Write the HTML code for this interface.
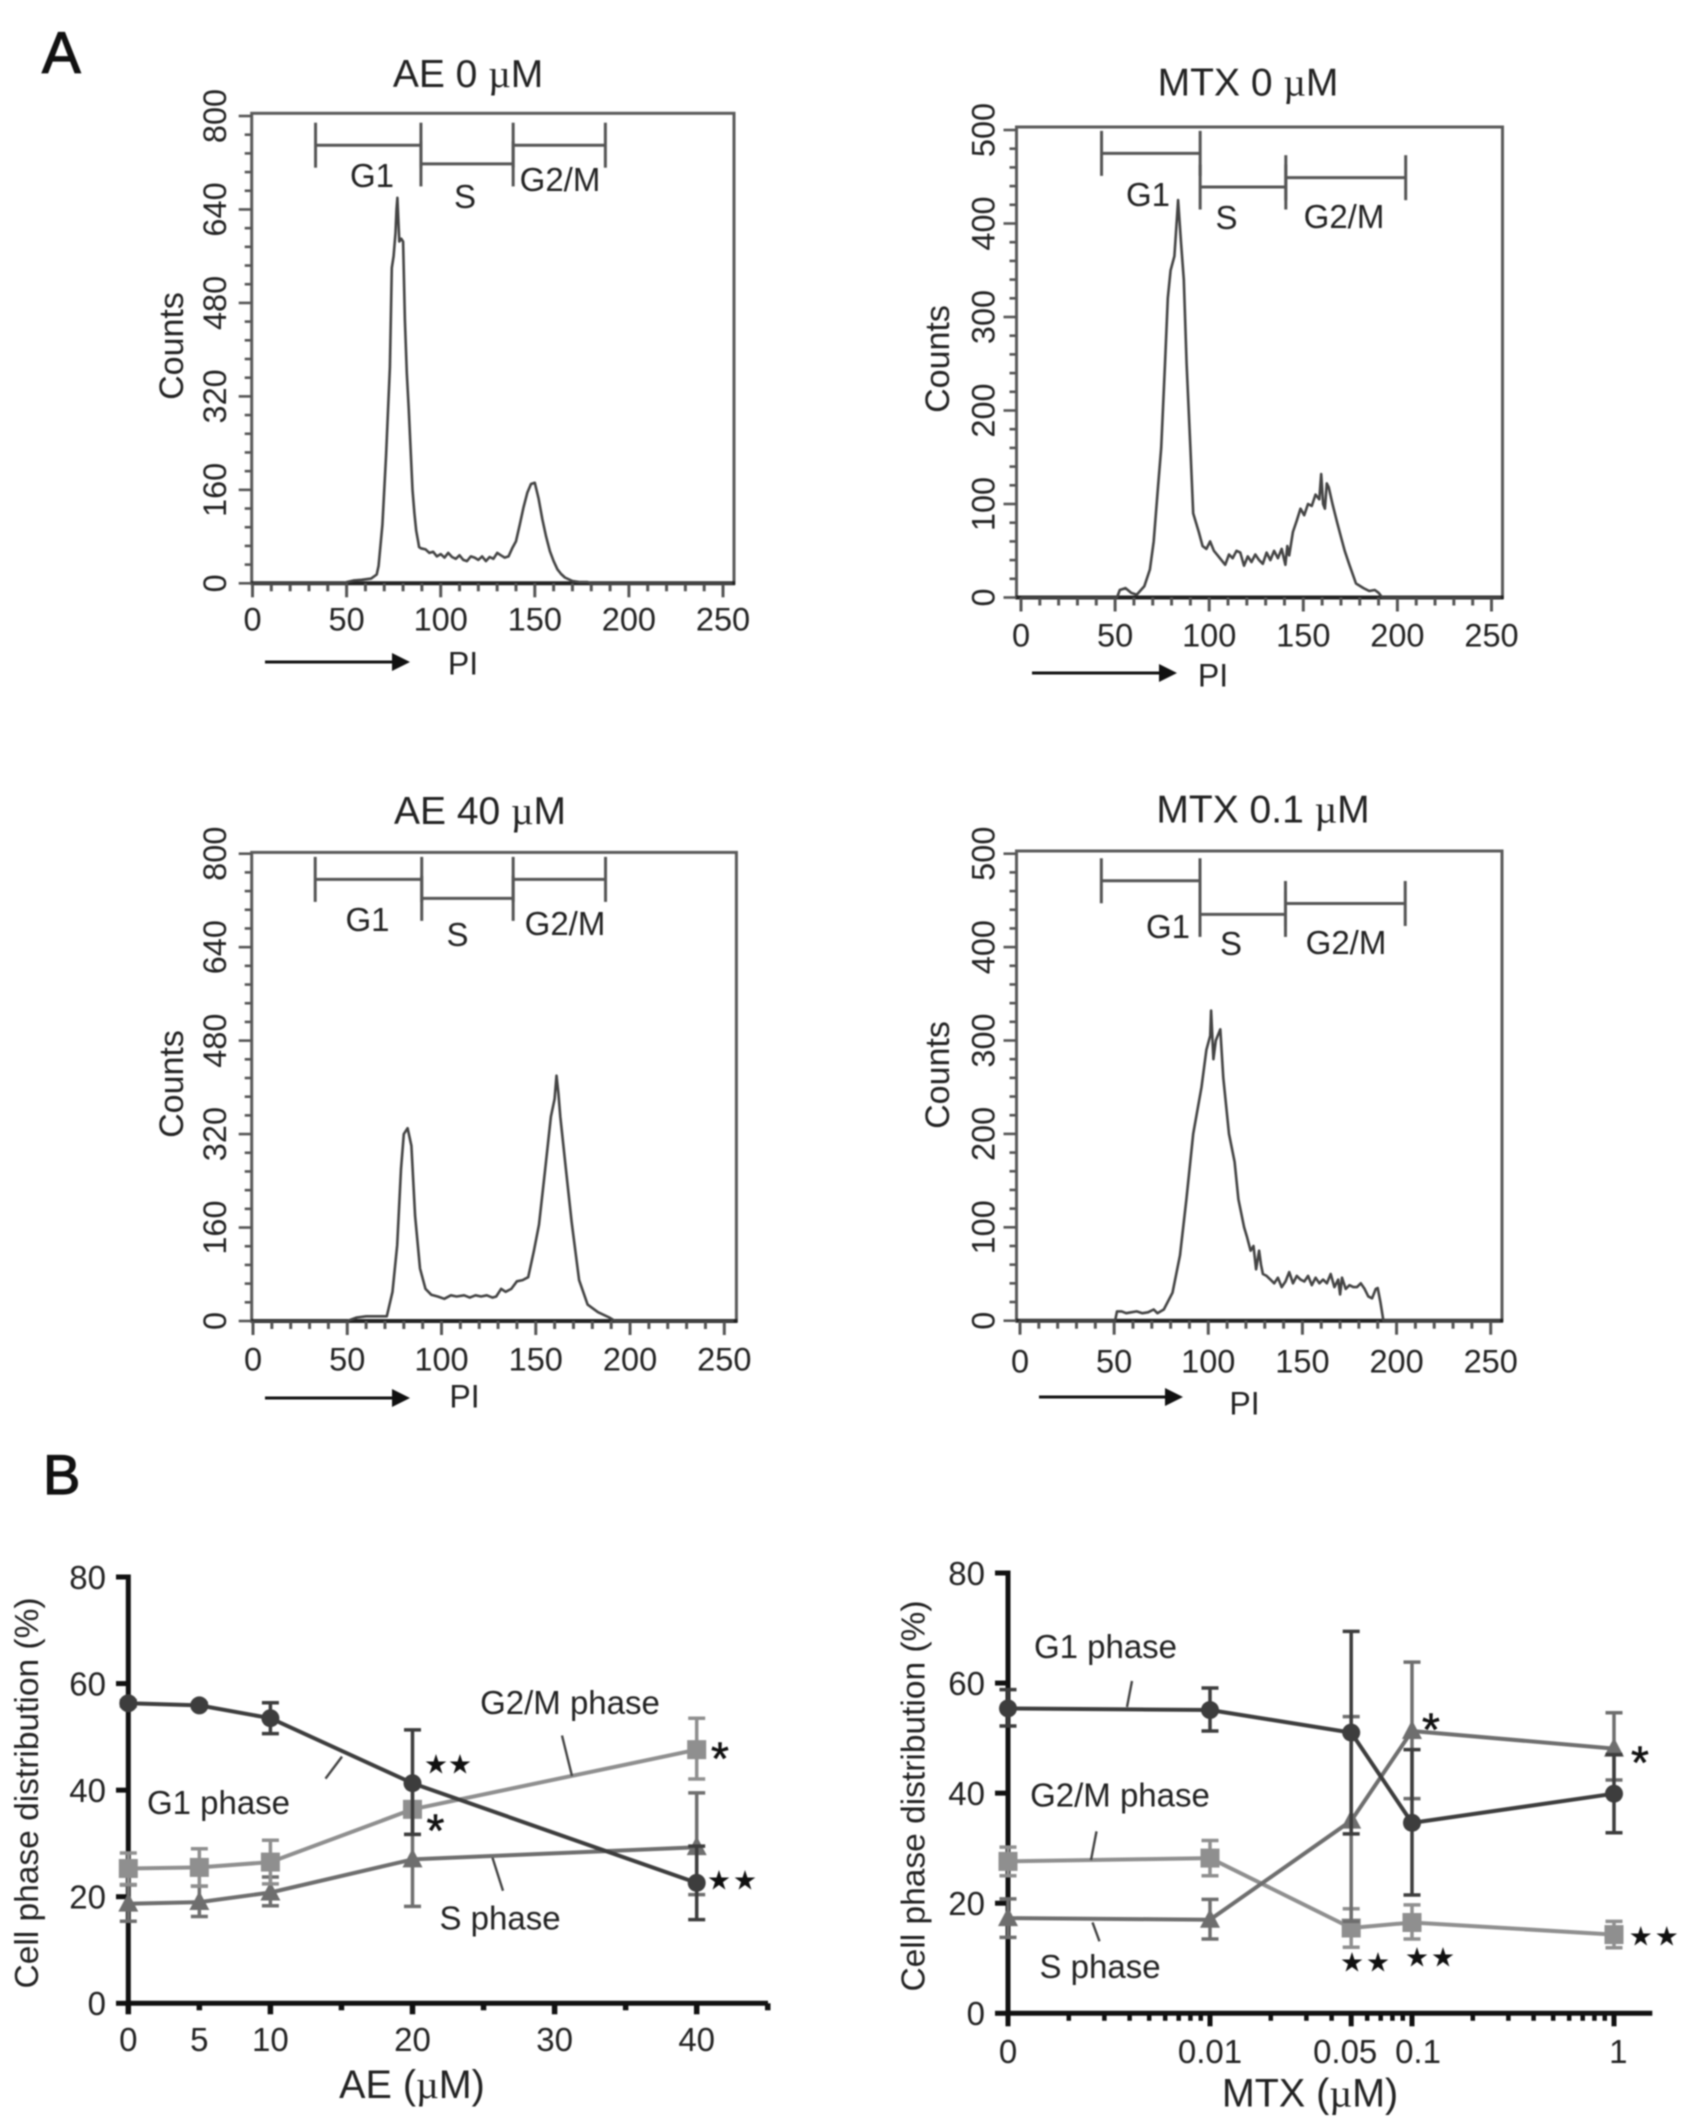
<!DOCTYPE html>
<html lang="en">
<head>
<meta charset="utf-8">
<title>Cell cycle histograms and phase distribution</title>
<style>
html,body{margin:0;padding:0;background:#fff;width:1689px;height:2126px;overflow:hidden}
svg{display:block;filter:blur(0.8px)}
text{font-family:"Liberation Sans",Arial,sans-serif;fill:#222}
</style>
</head>
<body>
<svg id="figure" xmlns="http://www.w3.org/2000/svg" width="1689" height="2126" viewBox="0 0 1689 2126"></svg>
<script>
// ---------- Histogram data (PI channel, counts) ----------
const ae0Channels=[0,49,50,54,58,63,66,67,69,71,
73,74,75,76,76.5,77,77.5,78,79,80,
81,82,83,84,85,86,87,88,88.5,89.5,
92,94,96,98,100,102,104,106,108,110,
112,114,116,118,120,122,124,126,128,130,
132,134,136,138,140,142,144,146,148,150,
152,154,156,158,160,162,164,166,170,174,
178,180,255];
const ae0Counts=[0,0,2,5,6,8,15,30,100,220,
370,540,560,600,640,660,620,585,590,585,
450,360,300,230,160,120,90,72,62,60,
58,52,54,46,50,44,52,45,42,48,
40,38,46,44,40,46,38,45,42,52,
48,44,46,60,72,100,130,155,170,172,
145,110,80,55,38,24,16,10,4,2,
2,0,0];
const mtx0Channels=[0,51,52.5,55.5,58.5,61.5,65.5,68.5,70.5,72.5,
74.5,76.5,78,79.5,81.5,83,83.5,85,86.5,88,
90,91.5,94.5,96.5,98.5,100.5,102.5,104.5,106.5,108.5,
110.5,112.5,114.5,116.5,118.5,120.5,122.5,124.5,126.5,128.5,
130.5,132.5,134.5,136.5,138.5,140.5,141.5,142.5,144.5,146.5,
148.5,150.5,152.5,154.5,156.5,158.5,159.5,160.5,161.5,162.5,
163.5,165.5,168,170,172,174.5,178,182,185,188,
190,192,255];
const mtx0Counts=[0,0,8,10,5,3,12,30,60,110,
160,250,320,350,365,410,425,380,340,250,
160,90,70,55,52,60,50,45,40,35,
46,42,50,48,34,44,38,46,40,36,
48,40,50,42,52,35,55,45,70,82,
95,88,100,98,110,105,132,100,95,122,
118,100,80,65,50,35,15,10,7,8,
5,0,0];
const ae40Channels=[0,50,55,60,65,71,74,76.5,78.5,80,
82,84,86,88.6,91.5,94.5,98,101.5,105,108,
112,115,118,121,124,127,129,131.6,134,137,
140,143,146,149,151.7,155,158,160,161,162,
163,166,169,173,177.5,183,189,192,255];
const ae40Counts=[0,0,6,8,8,8,50,130,260,320,
330,300,180,90,55,45,42,38,44,42,
44,40,44,42,44,40,42,55,50,55,
68,70,75,120,165,260,350,380,420,390,
350,260,170,70,28,15,6,0,0];
const mtx01Channels=[0,50.5,51.5,54,56.4,59,62,65,68,71,
73,76.4,81,85,88.4,92,96.4,99,101,101.5,
102.7,104,106.4,108,111,114,116,119,120.5,122.5,
124,125.4,127,128,129,131,133,135,137,139,
141,143,145,147,149,151,153,155,157,159,
161,163,165,167,169,170,171,173,175,177,
179,181,183,185,187,189,190,191.4,193,255];
const mtx01Counts=[0,0,10,10,8,9,10,8,9,12,
8,12,30,70,130,200,250,290,305,332,
280,300,312,260,200,170,130,100,90,75,
80,55,75,60,50,48,44,40,46,36,
42,52,40,48,44,42,48,38,46,40,
44,40,50,36,44,28,46,34,38,36,
36,40,34,26,24,34,35,20,0,0];
const histXTicks=[0,50,100,150,200,250];
const histYTicksAE=[0,160,320,480,640,800];
const histYTicksMTX=[0,100,200,300,400,500];

// ---------- Phase distribution data (AE) ----------
const aeDoses=[0,5,10,20,40];
const aeG1=[56.3,55.9,53.5,41.3,22.6];
const aeG1Hi=[56.8,56.3,56.4,51.3,29.5];
const aeG1Lo=[55.8,55.5,50.6,31.7,15.7];
const aeG2M=[25.3,25.5,26.5,36.4,47.6];
const aeG2MHi=[28.2,29,30.6,41,53.5];
const aeG2MLo=[22.3,22,22.4,31.7,42.1];
const aeS=[18.7,19,20.8,27,29.3];
const aeSHi=[22.2,22,23.7,35.8,39.5];
const aeSLo=[15.4,16.3,18.3,18.2,20.4];
const aeXTicks=[0,5,10,15,20,25,30,35,40,45];
const aeXLabels=[0,5,10,20,30,40];
const phaseYTicks=[0,20,40,60,80];

// ---------- Phase distribution data (MTX) ----------
const mtxDoses=[0,0.01,0.05,0.1,1];
const mtxG1=[55.4,55.1,51,34.6,39.9];
const mtxG1Hi=[58.8,59.1,69.4,47.9,47];
const mtxG1Lo=[52.2,51.3,32.6,21.5,32.8];
const mtxG2M=[27.6,28.2,15.5,16.5,14.3];
const mtxG2MHi=[30.2,31.4,19,19.7,16.7];
const mtxG2MLo=[25,25,12,13.5,11.9];
const mtxS=[17.3,17,35,51.3,48.1];
const mtxSHi=[20.8,20.7,53.9,63.8,54.6];
const mtxSLo=[13.8,13.5,16.7,39,42.4];
const mtxXLabels=["0","0.01","0.05","0.1","1"];
const mtxMinorDecades=[0.001,0.01,0.1];
const mtxMinorMultiples=[2,3,4,5,6,7,8,9];

// ---------- Helpers ----------
const NS='http://www.w3.org/2000/svg';
const root=document.getElementById('figure');
function mk(parent,tag,attrs,name,interactive){
  const el=document.createElementNS(NS,tag);
  for(const k in attrs){el.setAttribute(k,attrs[k]);}
  
  
  parent.appendChild(el);
  return el;
}
function seg(p,x1,y1,x2,y2,color,w,name){
  return mk(p,'line',{x1:x1,y1:y1,x2:x2,y2:y2,stroke:color,'stroke-width':w},name);
}
function label(p,x,cy,str,size,name,opts){
  opts=opts||{};
  const a={x:x,y:cy+size*0.36,'font-size':size,'text-anchor':opts.anchor||'middle'};
  if(opts.rot){a.transform='rotate(-90 '+x+' '+cy+')';}
  const t=mk(p,'text',a,name);
  t.innerHTML=str.replace('µ','<tspan style="font-family:\'Liberation Serif\',serif">µ</tspan>');
  return t;
}

// ---------- Histogram panels ----------
function histogram(cfg){
  const g=mk(root,'g',{},cfg.name);
  const X=ch=>cfg.x0+(cfg.x250-cfg.x0)*ch/250;
  const Y=c=>cfg.y0-(cfg.y0-cfg.yMax)*c/cfg.max;
  mk(g,'rect',{x:cfg.L,y:cfg.T,width:cfg.R-cfg.L,height:cfg.B-cfg.T,fill:'none',stroke:'#5a5a5a','stroke-width':3},cfg.name+'-frame');
  seg(g,cfg.L-1,cfg.y0,cfg.R+1,cfg.y0,'#222',4,cfg.name+'-x-axis');
  // x ticks
  for(let v=0;v<=250;v+=10){
    const maj=v%50===0;
    seg(g,X(v),cfg.y0,X(v),cfg.y0+(maj?14:8),'#555',3,cfg.name+'-x-tick');
  }
  histXTicks.forEach(v=>{
    label(g,X(v),cfg.xLabelY,String(v),32.5,cfg.name+'-x-tick-label');
  });
  // y ticks
  const step=cfg.max/25;
  for(let i=0;i<=25;i++){
    const maj=i%5===0;
    seg(g,cfg.L,Y(i*step),cfg.L-(maj?13:7),Y(i*step),'#555',2.6,cfg.name+'-y-tick');
  }
  cfg.yTicks.forEach(v=>{
    label(g,cfg.yLabelX,Y(v),String(v),32.5,cfg.name+'-y-tick-label',{rot:true});
  });
  // histogram trace
  const pts=cfg.channels.map((ch,i)=>X(ch).toFixed(1)+','+Y(cfg.counts[i]).toFixed(1)).join(' ');
  mk(g,'polyline',{points:pts,fill:'none',stroke:'#444','stroke-width':2.6,'stroke-linejoin':'round'},cfg.name+'-trace');
  // gates
  cfg.gates.forEach(gt=>{
    const c=gt.level;
    seg(g,X(gt.from),Y(c),X(gt.to),Y(c),'#555',3,cfg.name+'-gate-'+gt.id);
    seg(g,X(gt.from),Y(c)-22.5,X(gt.from),Y(c)+22.5,'#555',3,cfg.name+'-gate-'+gt.id+'-start');
    seg(g,X(gt.to),Y(c)-22.5,X(gt.to),Y(c)+22.5,'#555',3,cfg.name+'-gate-'+gt.id+'-end');
    label(g,gt.lx,gt.ly,gt.text,33,cfg.name+'-gate-label-'+gt.id);
  });
  label(g,cfg.titleX,cfg.titleY,cfg.title,39,cfg.name+'-title');
  label(g,cfg.countsX,cfg.countsY,'Counts',34,cfg.name+'-y-axis-title',{rot:true});
  label(g,cfg.piX,cfg.piY,'PI',32,cfg.name+'-x-axis-title');
  seg(g,cfg.arrowA,cfg.arrowY,cfg.arrowB-14,cfg.arrowY,'#111',3,cfg.name+'-arrow-shaft');
  mk(g,'polygon',{points:(cfg.arrowB-18)+','+(cfg.arrowY-9)+' '+cfg.arrowB+','+cfg.arrowY+' '+(cfg.arrowB-18)+','+(cfg.arrowY+9),fill:'#111'},cfg.name+'-arrow-head');
}

histogram({name:'histogram-ae-0',title:'AE 0 µM',titleX:468,titleY:73,channels:ae0Channels,counts:ae0Counts,max:800,yTicks:histYTicksAE,
  L:251.7,R:734,T:113.3,B:583.3,x0:252.5,x250:723,yMax:116,y0:583.3,xLabelY:619,yLabelX:214.5,countsX:170.6,countsY:346,piX:463,piY:663,arrowA:265,arrowB:410,arrowY:662,
  gates:[{id:'g1',text:'G1',from:33.5,to:89.5,level:750,lx:372,ly:175},{id:'s',text:'S',from:89.5,to:138.5,level:718,lx:465,ly:196},{id:'g2m',text:'G2/M',from:138.5,to:187.5,level:750,lx:560,ly:179}]});
histogram({name:'histogram-mtx-0',title:'MTX 0 µM',titleX:1248,titleY:81.5,channels:mtx0Channels,counts:mtx0Counts,max:500,yTicks:histYTicksMTX,
  L:1016.5,R:1502.5,T:127,B:597.5,x0:1021,x250:1491.5,yMax:130,y0:597.5,xLabelY:635,yLabelX:983,countsX:937,countsY:359,piX:1213,piY:675,arrowA:1032,arrowB:1177,arrowY:673,
  gates:[{id:'g1',text:'G1',from:42.8,to:95.2,level:475,lx:1148,ly:194},{id:'s',text:'S',from:95.2,to:140.7,level:439,lx:1226.5,ly:217},{id:'g2m',text:'G2/M',from:140.7,to:204.4,level:449,lx:1344,ly:216}]});
histogram({name:'histogram-ae-40',title:'AE 40 µM',titleX:480,titleY:810,channels:ae40Channels,counts:ae40Counts,max:800,yTicks:histYTicksAE,
  L:251.7,R:736.4,T:852.4,B:1321,x0:253,x250:724.3,yMax:853.7,y0:1321,xLabelY:1359,yLabelX:214.5,countsX:170.6,countsY:1084,piX:464.5,piY:1396,arrowA:265,arrowB:410,arrowY:1398,
  gates:[{id:'g1',text:'G1',from:33,to:89.5,level:756,lx:367.5,ly:919},{id:'s',text:'S',from:89.5,to:138,level:723.5,lx:457.5,ly:934},{id:'g2m',text:'G2/M',from:138,to:187,level:756,lx:565,ly:923}]});
histogram({name:'histogram-mtx-0-1',title:'MTX 0.1 µM',titleX:1263,titleY:808.5,channels:mtx01Channels,counts:mtx01Counts,max:500,yTicks:histYTicksMTX,
  L:1016.5,R:1502,T:851,B:1320.7,x0:1020,x250:1490.7,yMax:853.7,y0:1320.7,xLabelY:1360.8,yLabelX:983,countsX:937,countsY:1075,piX:1244.5,piY:1403,arrowA:1039,arrowB:1183,arrowY:1397,
  gates:[{id:'g1',text:'G1',from:43.2,to:95.6,level:471,lx:1168,ly:926},{id:'s',text:'S',from:95.6,to:141,level:435,lx:1231,ly:943},{id:'g2m',text:'G2/M',from:141,to:204.6,level:446.7,lx:1346,ly:942}]});

// ---------- Line chart helpers ----------
const G1_COLOR='#3d3d3d',G2M_COLOR='#8f8f8f',S_COLOR='#6e6e6e';
function series(p,X,Y,xs,vals,hi,lo,color,shape,name){
  const g=mk(p,'g',{},name);
  xs.forEach((x,i)=>{
    seg(g,X(x),Y(hi[i]),X(x),Y(lo[i]),color,3.5,name+'-error-bar');
    seg(g,X(x)-8.5,Y(hi[i]),X(x)+8.5,Y(hi[i]),color,3.5,name+'-error-cap-high');
    seg(g,X(x)-8.5,Y(lo[i]),X(x)+8.5,Y(lo[i]),color,3.5,name+'-error-cap-low');
  });
  const pts=xs.map((x,i)=>X(x).toFixed(1)+','+Y(vals[i]).toFixed(1)).join(' ');
  mk(g,'polyline',{points:pts,fill:'none',stroke:color,'stroke-width':4,'stroke-linejoin':'round'},name+'-line');
  xs.forEach((x,i)=>{
    const cx=X(x),cy=Y(vals[i]);
    if(shape==='circle'){
      mk(g,'circle',{cx:cx,cy:cy,r:9,fill:color},name+'-point');
    }else if(shape==='square'){
      mk(g,'rect',{x:cx-9.5,y:cy-9.5,width:19,height:19,fill:color},name+'-point');
    }else{
      mk(g,'polygon',{points:cx+','+(cy-11)+' '+(cx+10)+','+(cy+8)+' '+(cx-10)+','+(cy+8),fill:color},name+'-point');
    }
  });
}
function star(p,cx,cy,name){
  const fs=27;
  const t=mk(p,'text',{x:cx,y:cy+fs*0.35,'font-size':fs,'text-anchor':'middle',style:'fill:#111;font-family:\'DejaVu Sans\',sans-serif'},name);
  t.textContent='★';
}
function asterisk(p,cx,cy,name){
  const fs=46;
  const t=mk(p,'text',{x:cx,y:cy+fs*0.45,'font-size':fs,'text-anchor':'middle',style:'fill:#111;stroke:#111;stroke-width:0.6'},name);
  t.textContent='*';
}

// ---------- AE chart ----------
(function(){
  const g=mk(root,'g',{},'phase-chart-ae');
  const X=v=>128.3+v*14.21;
  const Y=v=>2003.3-v*(2003.3-1577)/80;
  seg(g,128.3,Y(80)-2.5,128.3,Y(0)+2.5,'#111',5,'ae-y-axis');
  seg(g,128.3,Y(0),768,Y(0),'#111',5,'ae-x-axis');
  phaseYTicks.forEach(v=>{
    seg(g,116,Y(v),128.3,Y(v),'#111',5,'ae-y-tick');
    label(g,106,Y(v),String(v),33,'ae-y-tick-label',{anchor:'end'});
  });
  aeXTicks.forEach((v,i)=>{
    seg(g,X(v),Y(0),X(v),Y(0)+(i%2===0?11:7),'#111',5.5,'ae-x-tick');
  });
  aeXLabels.forEach(v=>{
    label(g,X(v),2039.3,String(v),33,'ae-x-tick-label');
  });
  label(g,26,1793,'Cell phase distribution (%)',33.5,'ae-y-axis-title',{rot:true});
  label(g,412,2084,'AE (µM)',39.5,'ae-x-axis-title');
  series(g,X,Y,aeDoses,aeS,aeSHi,aeSLo,S_COLOR,'triangle','ae-s-phase');
  series(g,X,Y,aeDoses,aeG2M,aeG2MHi,aeG2MLo,G2M_COLOR,'square','ae-g2m-phase');
  series(g,X,Y,aeDoses,aeG1,aeG1Hi,aeG1Lo,G1_COLOR,'circle','ae-g1-phase');
  seg(g,342,1756.6,325.5,1778.6,'#444',2.4,'ae-g1-leader');
  seg(g,562,1735.5,572,1776,'#444',2.4,'ae-g2m-leader');
  seg(g,492.5,1857.8,503,1890.8,'#444',2.4,'ae-s-leader');
  label(g,570,1702,'G2/M phase',33,'ae-g2m-label');
  label(g,218.5,1802,'G1 phase',33,'ae-g1-label');
  label(g,500,1917.5,'S phase',33,'ae-s-label');
  star(g,436,1764,'ae-star');
  star(g,460,1764,'ae-star');
  asterisk(g,435.5,1826,'ae-asterisk');
  asterisk(g,720,1754,'ae-asterisk');
  star(g,719,1880,'ae-star');
  star(g,745,1880,'ae-star');
})();

// ---------- MTX chart ----------
(function(){
  const g=mk(root,'g',{},'phase-chart-mtx');
  const X=v=>1008+(Math.log10(Math.max(v,0.001))+3)*202;
  const Y=v=>2013.3-v*(2013.3-1573)/80;
  seg(g,1008,Y(80)-2.5,1008,Y(0)+2.5,'#111',5,'mtx-y-axis');
  seg(g,1008,Y(0),1652.3,Y(0),'#111',5,'mtx-x-axis');
  phaseYTicks.forEach(v=>{
    seg(g,995,Y(v),1008,Y(v),'#111',5,'mtx-y-tick');
    label(g,985,Y(v),String(v),33,'mtx-y-tick-label',{anchor:'end'});
  });
  mtxDoses.forEach((v,i)=>{
    seg(g,X(v),Y(0),X(v),Y(0)+13,'#111',5,'mtx-x-tick');
    const off=v===0.05?-6:(v===0.1?6:(v===1?4.3:0));
    label(g,X(v)+off,2051,mtxXLabels[i],33,'mtx-x-tick-label');
  });
  mtxMinorDecades.forEach(d=>{
    mtxMinorMultiples.forEach(m=>{
      seg(g,X(d*m),Y(0),X(d*m),Y(0)+7.5,'#111',4.5,'mtx-x-minor-tick');
    });
  });
  label(g,912.7,1796,'Cell phase distribution (%)',33.5,'mtx-y-axis-title',{rot:true});
  label(g,1310,2092.5,'MTX (µM)',39.5,'mtx-x-axis-title');
  series(g,X,Y,mtxDoses,mtxG2M,mtxG2MHi,mtxG2MLo,G2M_COLOR,'square','mtx-g2m-phase');
  series(g,X,Y,mtxDoses,mtxS,mtxSHi,mtxSLo,S_COLOR,'triangle','mtx-s-phase');
  series(g,X,Y,mtxDoses,mtxG1,mtxG1Hi,mtxG1Lo,G1_COLOR,'circle','mtx-g1-phase');
  seg(g,1132,1681,1127,1707,'#444',2.4,'mtx-g1-leader');
  seg(g,1096.5,1831.4,1091,1860,'#444',2.4,'mtx-g2m-leader');
  seg(g,1092.5,1922.4,1099.5,1941.3,'#444',2.4,'mtx-s-leader');
  label(g,1105.5,1646,'G1 phase',33,'mtx-g1-label');
  label(g,1120,1794.5,'G2/M phase',33,'mtx-g2m-label');
  label(g,1100,1966,'S phase',33,'mtx-s-label');
  asterisk(g,1431,1724.6,'mtx-asterisk');
  asterisk(g,1640,1758,'mtx-asterisk');
  star(g,1352,1962,'mtx-star');
  star(g,1378,1962,'mtx-star');
  star(g,1417,1957,'mtx-star');
  star(g,1443,1957,'mtx-star');
  star(g,1640.7,1936,'mtx-star');
  star(g,1666.7,1936,'mtx-star');
})();

// ---------- Panel letters ----------
const letterA=mk(root,'text',{x:42,y:73,'font-size':58,style:'fill:#111;stroke:#111;stroke-width:1.2'},'panel-label-a');
letterA.textContent='A';
const letterB=mk(root,'text',{x:43,y:1494,'font-size':56,style:'fill:#111;stroke:#111;stroke-width:1.2'},'panel-label-b');
letterB.textContent='B';
</script>
</body>
</html>
